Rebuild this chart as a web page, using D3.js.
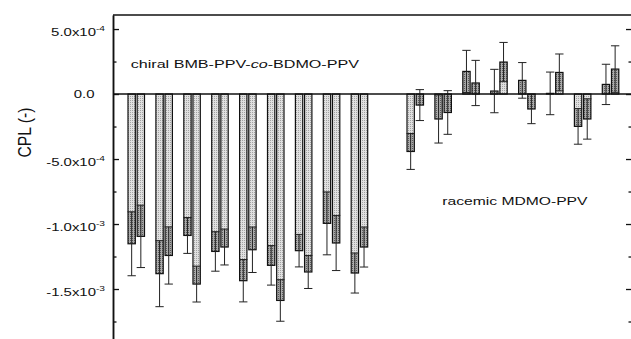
<!DOCTYPE html>
<html>
<head>
<meta charset="utf-8">
<script src="https://cdn.jsdelivr.net/npm/d3@7"></script>
<style>
  html, body { margin: 0; padding: 0; background: #fff; }
  svg { display: block; }
  text { font-family: "Liberation Sans", Arial, sans-serif; fill: #111; }
</style>
</head>
<body>
<div id="chart"></div>
<script>
// sample slots on the x axis; slot 10 is the gap between the two polymers
const slots = ['1', '2', '3', '4', '5', '6', '7', '8', '9', '10', '11', '12', '13', '14', '15', '16', '17', '18'];

// CPL values, first and second bar of every pair
const cplFirst  = [-11.52e-4, -13.82e-4, -10.88e-4, -12.11e-4, -14.36e-4, -13.18e-4, -12.05e-4, -9.95e-4, -13.77e-4, null,
                   -4.42e-4, -1.92e-4, 1.74e-4, 0.23e-4, 1.05e-4, 0.05e-4, -2.49e-4, 0.74e-4];
const errFirst  = [2.46e-4, 2.54e-4, 1.38e-4, 1.52e-4, 1.63e-4, 1.52e-4, 1.25e-4, 2.42e-4, 1.54e-4, null,
                   1.38e-4, 1.85e-4, 1.62e-4, 1.67e-4, 1.37e-4, 1.64e-4, 1.37e-4, 1.55e-4];
const cplSecond = [-10.95e-4, -12.42e-4, -14.62e-4, -11.77e-4, -11.98e-4, -15.88e-4, -13.69e-4, -11.46e-4, -11.77e-4, null,
                   -0.85e-4, -1.42e-4, 0.85e-4, 2.46e-4, -1.15e-4, 1.66e-4, -1.92e-4, 1.92e-4];
const errSecond = [2.40e-4, 2.20e-4, 1.38e-4, 1.38e-4, 1.75e-4, 1.60e-4, 1.27e-4, 2.12e-4, 1.54e-4, null,
                   1.19e-4, 1.68e-4, 1.74e-4, 1.51e-4, 1.13e-4, 1.42e-4, 1.55e-4, 1.79e-4];

const majorTicks = [5e-4, 0, -5e-4, -1e-3, -1.5e-3, -2e-3];
const minorTicks = [2.5e-4, -2.5e-4, -7.5e-4, -1.25e-3, -1.75e-3];
const tickLabels = [
  { v: 5e-4, mant: '5.0x10', exp: '-4' },
  { v: 0, mant: '0.0', exp: '' },
  { v: -5e-4, mant: '-5.0x10', exp: '-4' },
  { v: -1e-3, mant: '-1.0x10', exp: '-3' },
  { v: -1.5e-3, mant: '-1.5x10', exp: '-3' }
];

const width = 631, height = 339;
const margin = { left: 113, right: 632, top: 15, bottom: 354 };

const svg = d3.select('#chart').append('svg')
  .attr('width', width)
  .attr('height', height);

// dotted fills
const defs = svg.append('defs');
function dotPattern(id, bg, dot) {
  const p = defs.append('pattern')
    .attr('id', id)
    .attr('patternUnits', 'userSpaceOnUse')
    .attr('width', 2).attr('height', 2);
  p.append('rect').attr('width', 2).attr('height', 2).attr('fill', bg);
  p.append('rect').attr('width', 1).attr('height', 1).attr('fill', dot);
}
dotPattern('dotLight', '#e0e0e0', '#a2a2a2');
dotPattern('dotDark', '#ababab', '#5a5a5a');

const y = d3.scaleLinear()
  .domain([-2.0e-3, 6.08e-4])
  .range([margin.bottom, margin.top]);

const x = d3.scaleBand()
  .domain(slots)
  .range([122.3, 624.5]);

const pairWidth = 16.5;
const inner = d3.scaleBand()
  .domain(['a', 'b'])
  .range([(x.bandwidth() - pairWidth) / 2, (x.bandwidth() + pairWidth) / 2])
  .paddingInner(0.2);

// flatten arrays into bar records
const bars = [];
slots.forEach((s, i) => {
  if (cplFirst[i] != null) bars.push({ slot: s, key: 'a', v: cplFirst[i], e: errFirst[i] });
  if (cplSecond[i] != null) bars.push({ slot: s, key: 'b', v: cplSecond[i], e: errSecond[i] });
});

const bw = inner.bandwidth();
const bx = d => x(d.slot) + inner(d.key);
const cx = d => bx(d) + bw / 2;

const g = svg.append('g');

// bars
g.selectAll('.bar')
  .data(bars)
  .enter()
  .append('rect')
  .attr('class', 'bar')
  .attr('x', bx)
  .attr('y', d => Math.min(y(d.v), y(0)))
  .attr('width', bw)
  .attr('height', d => Math.abs(y(d.v) - y(0)))
  .attr('fill', 'url(#dotLight)');

// darker part where the error range sits inside the bar
g.selectAll('.overlap')
  .data(bars)
  .enter()
  .append('rect')
  .attr('class', 'overlap')
  .attr('x', bx)
  .attr('y', d => d.v < 0 ? y(Math.min(d.v + d.e, 0)) : y(d.v))
  .attr('width', bw)
  .attr('height', d => d.v < 0
    ? Math.max(0, y(d.v) - y(Math.min(d.v + d.e, 0)))
    : Math.max(0, y(Math.max(d.v - d.e, 0)) - y(d.v)))
  .attr('fill', 'url(#dotDark)');

// bar outlines
g.selectAll('.outline')
  .data(bars)
  .enter()
  .append('rect')
  .attr('class', 'outline')
  .attr('x', bx)
  .attr('y', d => Math.min(y(d.v), y(0)))
  .attr('width', bw)
  .attr('height', d => Math.abs(y(d.v) - y(0)))
  .attr('fill', 'none')
  .attr('stroke', '#111')
  .attr('stroke-width', 1.2);

// error bars
const err = g.selectAll('.err')
  .data(bars)
  .enter()
  .append('g')
  .attr('class', 'err')
  .attr('stroke', '#222')
  .attr('stroke-width', 1);

err.append('line')
  .attr('x1', cx).attr('x2', cx)
  .attr('y1', d => y(d.v + d.e))
  .attr('y2', d => y(d.v - d.e));

err.append('line')
  .attr('x1', d => cx(d) - bw / 2 - 0.5).attr('x2', d => cx(d) + bw / 2 + 0.5)
  .attr('y1', d => y(d.v + d.e)).attr('y2', d => y(d.v + d.e));

err.append('line')
  .attr('x1', d => cx(d) - bw / 2 - 0.5).attr('x2', d => cx(d) + bw / 2 + 0.5)
  .attr('y1', d => y(d.v - d.e)).attr('y2', d => y(d.v - d.e));

// zero line
g.append('line')
  .attr('x1', margin.left).attr('x2', margin.right)
  .attr('y1', y(0)).attr('y2', y(0))
  .attr('stroke', '#111')
  .attr('stroke-width', 1.6);

// frame: top edge
svg.append('line')
  .attr('x1', margin.left).attr('x2', margin.right)
  .attr('y1', margin.top).attr('y2', margin.top)
  .attr('stroke', '#111')
  .attr('stroke-width', 1.4);

// axes, ticks pointing inward
function styleAxis(sel) {
  sel.selectAll('path').attr('stroke', '#111').attr('stroke-width', 1.5);
  sel.selectAll('line').attr('stroke', '#111').attr('stroke-width', 1.3);
}

svg.append('g')
  .attr('transform', `translate(${margin.left},0)`)
  .call(d3.axisLeft(y).tickValues(majorTicks).tickSize(-6).tickSizeOuter(0).tickFormat(''))
  .call(styleAxis);

svg.append('g')
  .attr('transform', `translate(${margin.left},0)`)
  .call(d3.axisLeft(y).tickValues(minorTicks).tickSize(-3.5).tickSizeOuter(0).tickFormat(''))
  .call(styleAxis);

svg.append('g')
  .attr('transform', `translate(${margin.right},0)`)
  .call(d3.axisRight(y).tickValues(majorTicks).tickSize(-6).tickSizeOuter(0).tickFormat(''))
  .call(styleAxis);

svg.append('g')
  .attr('transform', `translate(${margin.right},0)`)
  .call(d3.axisRight(y).tickValues(minorTicks).tickSize(-3.5).tickSizeOuter(0).tickFormat(''))
  .call(styleAxis);

// tick labels with superscript exponents
const labels = svg.selectAll('.tick-label')
  .data(tickLabels)
  .enter()
  .append('g')
  .attr('class', 'tick-label')
  .attr('transform', d => d.exp
    ? `translate(105,${y(d.v) + 6.8}) scale(1.3,1)`
    : `translate(94.5,${y(d.v) + 4.2}) scale(1.3,1)`);

const lt = labels.append('text')
  .attr('text-anchor', 'end')
  .attr('font-size', 11.5);
lt.append('tspan').text(d => d.mant);
lt.append('tspan')
  .attr('font-size', 7.8)
  .attr('dy', -5)
  .text(d => d.exp);

// axis title
svg.append('text')
  .attr('transform', 'translate(30.5,132.5) rotate(-90) scale(1.12,1.3)')
  .attr('text-anchor', 'middle')
  .attr('font-size', 14)
  .text('CPL (-)');

// polymer annotations
const chiral = svg.append('text')
  .attr('transform', 'translate(130.7,68.3) scale(1.39,1)')
  .attr('font-size', 11.6);
chiral.append('tspan').text('chiral BMB-PPV-');
chiral.append('tspan').attr('font-style', 'italic').text('co');
chiral.append('tspan').text('-BDMO-PPV');

svg.append('text')
  .attr('transform', 'translate(442.3,205) scale(1.35,1)')
  .attr('font-size', 11.6)
  .text('racemic MDMO-PPV');
</script>
</body>
</html>
